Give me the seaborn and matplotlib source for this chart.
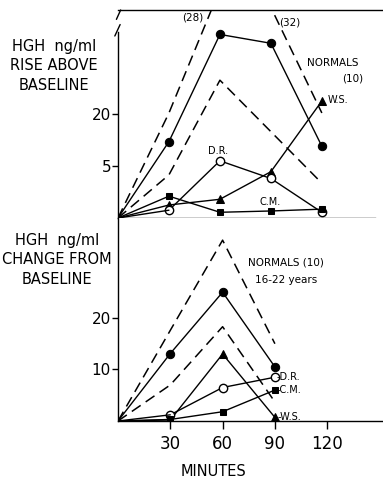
import numpy as np
import pandas as pd
import matplotlib
matplotlib.use("Agg")
import matplotlib.pyplot as plt
import seaborn as sns

# ---- data ----
minutes_top = [0, 30, 60, 90, 120]
top_mean = [0, 14.7, 35.3, 33.6, 13.8]
top_upper = [0, 20.2, 44.0, 40.5, 20.2]   # goes off the broken axis at 60/90
top_lower = [0, 8.3, 26.5, 16.6, 6.7]
top_ws = [0, 2.5, 3.6, 8.9, 22.5]
top_dr = [0, 1.5, 11.0, 7.6, 1.1]
top_cm = [0, 4.2, 1.1, 1.35, 1.7]

minutes_bot = [0, 30, 60, 90]
bot_mean = [0, 13.1, 25.0, 10.5]
bot_upper = [0, 17.6, 35.1, 15.0]
bot_lower = [0, 7.0, 18.3, 3.7]
bot_ws = [0, 0.2, 13.0, 0.7]
bot_dr = [0, 1.2, 6.5, 8.5]
bot_cm = [0, 0.3, 1.8, 6.0]

x_ticks = [30, 60, 90, 120]
top_yticks = [10, 20]
top_yticklabels = ["5", "20"]   # as printed on the original
bot_yticks = [10, 20]

sns.set_style("ticks")
plt.rcParams["font.family"] = ["DejaVu Sans"]
plt.rcParams.update({
    "text.color": "black", "axes.labelcolor": "black",
    "xtick.color": "black", "ytick.color": "black",
    "axes.edgecolor": "black",
})

DASH = (0, (7, 4))


def draw(ax, x, y, kind):
    """วาดเส้นแต่ละชุดด้วย seaborn"""
    kw = dict(color="black", linewidth=1.0, ax=ax, legend=False)
    if kind == "dash":
        sns.lineplot(x=x, y=y, linestyle=DASH, linewidth=1.1, color="black",
                     ax=ax, legend=False)
    elif kind == "fcircle":
        sns.lineplot(x=x[1:], y=y[1:], marker="o", markersize=6,
                     markerfacecolor="black", markeredgecolor="black", **kw)
    elif kind == "ocircle":
        sns.lineplot(x=x[1:], y=y[1:], marker="o", markersize=6,
                     markerfacecolor="white", markeredgecolor="black",
                     markeredgewidth=1.0, **kw)
    elif kind == "tri":
        sns.lineplot(x=x[1:], y=y[1:], marker="^", markersize=6,
                     markerfacecolor="black", markeredgecolor="black", **kw)
    elif kind == "square":
        sns.lineplot(x=x[1:], y=y[1:], marker="s", markersize=4.5,
                     markerfacecolor="black", markeredgecolor="black", **kw)
    if kind != "dash":
        # segment from origin (no marker at 0)
        sns.lineplot(x=x[:2], y=y[:2], color="black", linewidth=1.0,
                     ax=ax, legend=False)


fig = plt.figure(figsize=(3.83, 4.83), dpi=100)
W, H = 383, 483

ax1 = fig.add_axes([118 / W, (H - 218) / H, 265 / W, 208 / H])
ax2 = fig.add_axes([118 / W, (H - 421) / H, 265 / W, 203 / H])

# ---- top panel ----
draw(ax1, minutes_top, top_upper, "dash")
draw(ax1, minutes_top, top_lower, "dash")
draw(ax1, minutes_top, top_mean, "fcircle")
draw(ax1, minutes_top, top_ws, "tri")
draw(ax1, minutes_top, top_dr, "ocircle")
draw(ax1, minutes_top, top_cm, "square")

ax1.set_xlim(0, 156)
ax1.set_ylim(0, 40)
ax1.set_xticks(x_ticks)
ax1.set_xticklabels([])
ax1.set_yticks(top_yticks)
ax1.set_yticklabels(top_yticklabels, fontsize=11)
ax1.spines["right"].set_visible(False)
ax1.spines["left"].set_bounds(0, 35.8)
ax1.spines["bottom"].set_bounds(0, 151)
for s in ax1.spines.values():
    s.set_linewidth(1.0)
ax1.tick_params(axis="x", direction="out", length=6, width=1)
ax1.tick_params(axis="y", direction="out", length=4, width=1, pad=1)
ax1.set_xlabel("")
ax1.set_ylabel("")
# break marks on the y axis
ax1.plot([-0.012, 0.008], [0.875, 0.93], color="black", lw=1.0,
         transform=ax1.transAxes, clip_on=False)
ax1.plot([-0.006, 0.01], [0.955, 1.0], color="black", lw=1.0,
         transform=ax1.transAxes, clip_on=False)

small = 7.5
ax1.text(44, 38.6, "(28)", fontsize=small, ha="center", va="center")
ax1.text(101, 37.6, "(32)", fontsize=small, ha="center", va="center")
ax1.text(126.5, 29.8, "NORMALS", fontsize=small, ha="center", va="center")
ax1.text(138, 26.9, "(10)", fontsize=small, ha="center", va="center")
ax1.text(123.5, 22.7, "W.S.", fontsize=small - 0.5, ha="left", va="center")
ax1.text(59, 12.8, "D.R.", fontsize=small - 0.5, ha="center", va="center")
ax1.text(89.5, 3.0, "C.M.", fontsize=small - 0.5, ha="center", va="center")

# ---- bottom panel ----
draw(ax2, minutes_bot, bot_upper, "dash")
draw(ax2, minutes_bot, bot_lower, "dash")
draw(ax2, minutes_bot, bot_mean, "fcircle")
draw(ax2, minutes_bot, bot_ws, "tri")
draw(ax2, minutes_bot, bot_dr, "ocircle")
draw(ax2, minutes_bot, bot_cm, "square")

ax2.set_xlim(0, 152)
ax2.set_ylim(0, 39.4)
ax2.set_xticks(x_ticks)
ax2.set_xticklabels([str(t) for t in x_ticks], fontsize=12)
ax2.set_yticks(bot_yticks)
ax2.set_yticklabels([str(t) for t in bot_yticks], fontsize=11)
ax2.spines["right"].set_visible(False)
ax2.spines["top"].set_visible(False)
for s in ax2.spines.values():
    s.set_linewidth(1.0)
ax2.tick_params(axis="x", direction="out", length=6, width=1, pad=4)
ax2.tick_params(axis="y", direction="out", length=4, width=1, pad=1)
ax2.set_xlabel("")
ax2.set_ylabel("")

ax2.text(96.6, 30.7, "NORMALS (10)", fontsize=small, ha="center", va="center")
ax2.text(96.6, 27.3, "16-22 years", fontsize=small, ha="center", va="center")
ax2.text(91.2, 8.5, "-D.R.", fontsize=small - 0.5, ha="left", va="center")
ax2.text(91.2, 6.0, "-C.M.", fontsize=small - 0.5, ha="left", va="center")
ax2.text(91.6, 0.8, "-W.S.", fontsize=small - 0.5, ha="left", va="center")

# ---- axis titles ----
fig.text(54 / W, 1 - 66 / H, "HGH  ng/ml\nRISE ABOVE\nBASELINE",
         fontsize=10.5, ha="center", va="center", linespacing=1.35)
fig.text(57 / W, 1 - 260 / H, "HGH  ng/ml\nCHANGE FROM\nBASELINE",
         fontsize=10.5, ha="center", va="center", linespacing=1.35)
fig.text(213 / W, 1 - 472 / H, "MINUTES", fontsize=10.5,
         ha="center", va="center")

fig.savefig("out.png", dpi=100, facecolor="white")
